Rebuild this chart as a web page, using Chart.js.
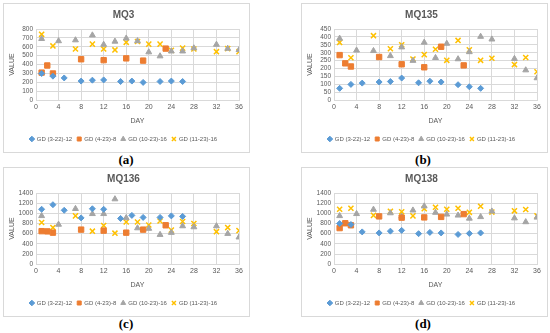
<!DOCTYPE html>
<html>
<head>
<meta charset="utf-8">
<script src="https://cdn.jsdelivr.net/npm/chart.js@4"></script>
<style>
  body { margin: 0; background: #fff; width: 550px; height: 333px; position: relative; overflow: hidden; }
  .box { position: absolute; width: 245px; height: 148px; border: 1px solid #d9d9d9; background: #fff; }
  .box canvas { display: block; }
  .lab { position: absolute; width: 60px; text-align: center; font-family: "Liberation Serif", serif; font-weight: bold; font-size: 13px; color: #000; }
</style>
</head>
<body>
<div class="box" style="left:3px;top:3px"><canvas id="c1" width="245" height="148"></canvas></div>
<div class="box" style="left:301px;top:3px"><canvas id="c2" width="245" height="148"></canvas></div>
<div class="box" style="left:3px;top:167px"><canvas id="c3" width="245" height="148"></canvas></div>
<div class="box" style="left:301px;top:167px"><canvas id="c4" width="245" height="148"></canvas></div>
<div class="lab" style="left:96px;top:152px">(a)</div>
<div class="lab" style="left:393px;top:152px">(b)</div>
<div class="lab" style="left:96px;top:316px">(c)</div>
<div class="lab" style="left:393px;top:316px">(d)</div>
<script>
// sampling days of each series
const daysA = [1, 3, 5, 8, 10, 12, 15, 17, 19, 22, 24, 26];
const daysB = [1, 2, 3, 8, 12, 16, 19, 23];
const daysC = [1, 4, 7, 10, 12, 14, 16, 18, 20, 22, 24, 26, 28, 32, 34, 36];
const daysD = [1, 3, 7, 10, 12, 14, 16, 18, 20, 22, 24, 26, 28, 32, 34, 36];

const seriesNames = ['GD (3-22)-12', 'GD (4-23)-8', 'GD (10-23)-16', 'GD (11-23)-16'];

// MQ3
const mq3_a = [300, 270, 250, 215, 225, 228, 210, 215, 200, 210, 215, 210];
const mq3_b = [310, 390, 300, 460, 450, 470, 445, 580];
const mq3_c = [690, 665, 675, 730, 625, 660, 695, 665, 540, 495, 550, 550, 585, 625, 580, 565];
const mq3_d = [740, 610, 575, 630, 575, 565, 650, 660, 630, 630, 560, 585, 575, 545, 580, 545];

// MQ135
const mq135_a = [75, 100, 108, 115, 118, 140, 110, 120, 115, 98, 85, 75];
const mq135_b = [285, 233, 213, 273, 227, 208, 338, 220];
const mq135_c = [390, 315, 312, 280, 335, 250, 365, 268, 358, 260, 305, 402, 385, 262, 190, 140];
const mq135_d = [365, 268, 408, 325, 350, 260, 288, 322, 252, 378, 318, 252, 265, 225, 270, 180];

// MQ136
const mq136_a = [1080, 1170, 1060, 910, 1090, 1080, 900, 960, 920, 920, 950, 940];
const mq136_b = [650, 645, 620, 680, 660, 620, 680, 765];
const mq136_c = [950, 780, 1090, 990, 990, 1280, 910, 710, 700, 580, 620, 750, 730, 750, 600, 530];
const mq136_d = [820, 720, 950, 650, 760, 610, 830, 830, 770, 850, 670, 840, 800, 640, 720, 660];

// MQ138
const mq138_a = [800, 780, 635, 615, 650, 665, 600, 625, 615, 585, 605, 615];
const mq138_b = [710, 805, 765, 940, 915, 920, 930, 985];
const mq138_c = [950, 990, 1075, 1005, 940, 1060, 1140, 1015, 980, 960, 900, 930, 1040, 905, 830, 920];
const mq138_d = [1080, 1100, 960, 1040, 1030, 950, 1090, 1120, 1080, 1100, 1020, 1140, 1025, 1050, 1075, 950];

const colors = ['#5b9bd5', '#ed7d31', '#a5a5a5', '#ffc000'];
const styles = ['rectRot', 'rect', 'triangle', 'crossRot'];
const radii = [3, 3.8, 3.4, 3.6];
const dayLists = [daysA, daysB, daysC, daysD];
const textColor = '#595959';
const gridColor = '#d9d9d9';

function pts(days, vals) {
  return days.map((d, i) => ({x: d, y: vals[i]}));
}

function makeChart(id, title, sets, yMax, yStep) {
  new Chart(document.getElementById(id), {
    type: 'scatter',
    data: {
      datasets: sets.map((vals, i) => ({
        label: seriesNames[i],
        data: pts(dayLists[i], vals),
        pointStyle: styles[i],
        pointRadius: radii[i],
        pointHoverRadius: radii[i],
        backgroundColor: colors[i],
        borderColor: colors[i],
        borderWidth: i === 3 ? 1.5 : 1
      }))
    },
    options: {
      responsive: false,
      animation: false,
      layout: {padding: {left: 4, right: 10, top: 1, bottom: 0}},
      plugins: {
        title: {
          display: true, text: title, color: textColor,
          font: {family: 'Liberation Sans', size: 10, weight: 'bold'},
          padding: {top: 4, bottom: 8}
        },
        legend: {
          position: 'bottom',
          labels: {
            usePointStyle: true, boxWidth: 4, boxHeight: 4, padding: 5,
            color: textColor, font: {family: 'Liberation Sans', size: 6}
          }
        },
        tooltip: {enabled: false}
      },
      scales: {
        x: {
          type: 'linear', min: 0, max: 36,
          ticks: {stepSize: 4, color: textColor, font: {family: 'Liberation Sans', size: 7}, padding: 3, maxRotation: 0, autoSkip: false},
          grid: {color: gridColor, drawTicks: false},
          border: {color: gridColor},
          title: {display: true, text: 'DAY', color: textColor, font: {family: 'Liberation Sans', size: 7}, padding: {top: 2, bottom: 6}}
        },
        y: {
          min: 0, max: yMax,
          ticks: {stepSize: yStep, color: textColor, font: {family: 'Liberation Sans', size: 6.5}, padding: 3, autoSkip: false,
                  callback: v => String(v)},
          grid: {color: gridColor, drawTicks: false},
          border: {display: false},
          title: {display: true, text: 'VALUE', color: textColor, font: {family: 'Liberation Sans', size: 7}, padding: {top: 0, bottom: 2}},
          afterFit: s => { s.width = 28; }
        }
      }
    }
  });
}

makeChart('c1', 'MQ3', [mq3_a, mq3_b, mq3_c, mq3_d], 800, 100);
makeChart('c2', 'MQ135', [mq135_a, mq135_b, mq135_c, mq135_d], 450, 50);
makeChart('c3', 'MQ136', [mq136_a, mq136_b, mq136_c, mq136_d], 1400, 200);
makeChart('c4', 'MQ138', [mq138_a, mq138_b, mq138_c, mq138_d], 1400, 200);
</script>
</body>
</html>
